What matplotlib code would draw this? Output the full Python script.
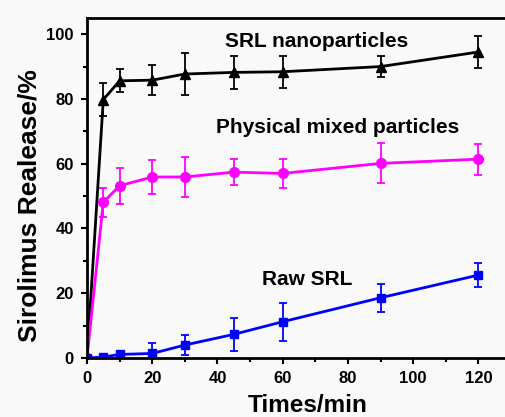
import matplotlib
matplotlib.use('Agg')
import matplotlib.pyplot as plt
from matplotlib.ticker import MultipleLocator

plt.rcParams['font.family'] = ['Liberation Sans', 'DejaVu Sans']
plt.rcParams['font.weight'] = 'bold'

# release data
t = [0, 5, 10, 20, 30, 45, 60, 90, 120]
nano = [0, 79.8, 85.6, 85.8, 87.7, 88.2, 88.4, 90.0, 94.5]
nano_err = [0, 5.0, 3.5, 4.6, 6.5, 5.0, 5.0, 3.3, 5.0]
mixed = [0, 48.1, 53.2, 55.9, 55.9, 57.4, 57.0, 60.1, 61.4]
mixed_err = [0, 4.5, 5.5, 5.4, 6.1, 4.0, 4.5, 6.2, 4.8]
raw = [0, 0.3, 1.1, 1.4, 4.0, 7.3, 11.2, 18.6, 25.6]
raw_err = [0, 0.3, 1.0, 3.3, 3.1, 5.1, 5.8, 4.4, 3.7]

fig = plt.figure(figsize=(5.06, 4.17), dpi=100)
fig.patch.set_facecolor('#f9f9f9')
ax = fig.add_axes([87/506, 59/417, 424/506, 340/417])
ax.set_facecolor('#f9f9f9')

ax.errorbar(t, nano, yerr=nano_err, color='black', marker='^', markersize=7,
            linewidth=2, capsize=3, elinewidth=1.3, capthick=1.3)
ax.errorbar(t, mixed, yerr=mixed_err, color='#ff00ff', marker='o', markersize=7,
            linewidth=2, capsize=3, elinewidth=1.3, capthick=1.3)
ax.errorbar(t, raw, yerr=raw_err, color='#0000ff', marker='s', markersize=6,
            linewidth=2, capsize=3, elinewidth=1.3, capthick=1.3)

ax.text(70.5, 97.6, 'SRL nanoparticles', fontsize=15, fontweight='bold', ha='center', va='center')
ax.text(76.8, 71.3, 'Physical mixed particles', fontsize=15, fontweight='bold', ha='center', va='center')
ax.text(67.5, 24.1, 'Raw SRL', fontsize=15, fontweight='bold', ha='center', va='center')

ax.set_xlim(0, 130)
ax.set_ylim(0, 105)
ax.xaxis.set_major_locator(MultipleLocator(20))
ax.xaxis.set_minor_locator(MultipleLocator(10))
ax.yaxis.set_major_locator(MultipleLocator(20))
ax.yaxis.set_minor_locator(MultipleLocator(10))
ax.tick_params(which='major', length=4.5, width=1.5, labelsize=12, pad=5)
ax.tick_params(which='minor', length=3, width=1.5)
for s in ax.spines.values():
    s.set_linewidth(2)
for lab in ax.get_xticklabels() + ax.get_yticklabels():
    lab.set_fontweight('bold')

fig.text(308/506, 1 - 411.5/417, 'Times/min', fontsize=17.5, fontweight='bold',
         ha='center', va='baseline')
fig.text(30/506, 1 - 206/417, 'Sirolimus Realease/%', fontsize=19, fontweight='bold',
         ha='center', va='center', rotation=90)

fig.savefig('out.png', dpi=100, facecolor=fig.get_facecolor())
